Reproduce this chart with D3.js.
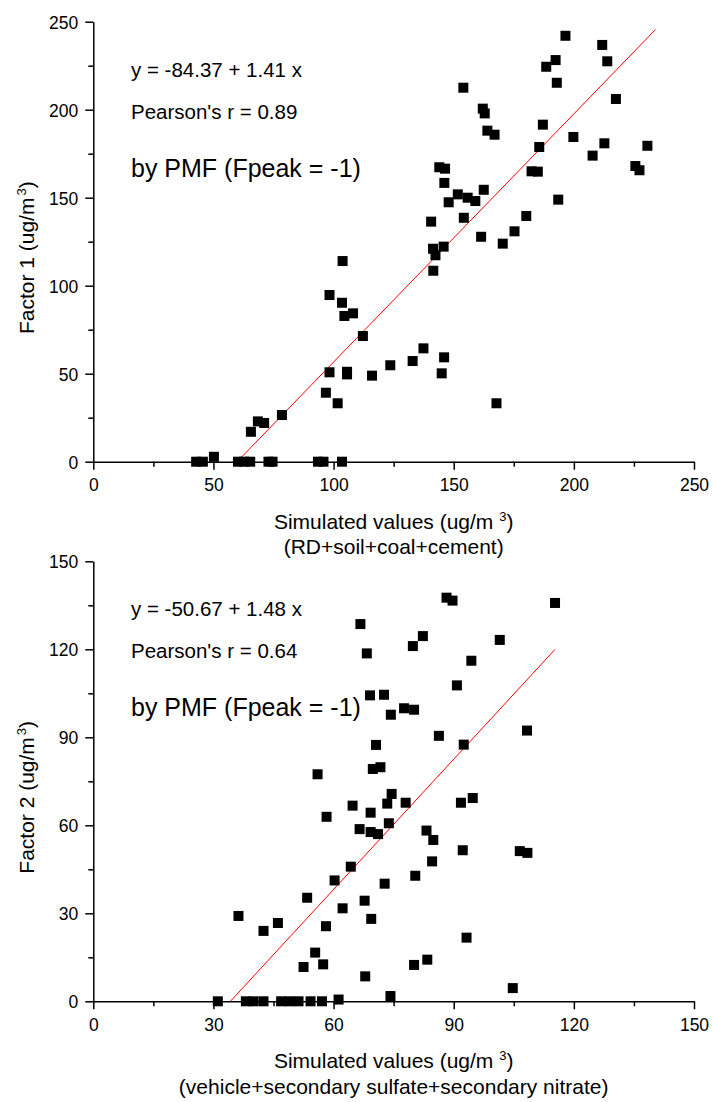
<!DOCTYPE html>
<html>
<head>
<meta charset="utf-8">
<script src="https://cdn.jsdelivr.net/npm/d3@7"></script>
<style>
  body { margin: 0; background: #fff; }
  svg { display: block; font-family: "Liberation Sans", Arial, sans-serif; }
  .axis path, .axis line { stroke: #000; stroke-width: 1.5; }
  .axis text { font-size: 17.5px; fill: #000; font-family: "Liberation Sans", Arial, sans-serif; }
</style>
</head>
<body>
<svg></svg>
<script>
// Factor 1 vs simulated (RD+soil+coal+cement)
var f1X = [196.5, 211.8, 213.9, 192.4, 188.5, 192.9, 154.0, 217.5, 162.1, 162.9, 187.1, 164.0,
    167.0, 199.8, 212.7, 230.6, 185.6, 207.8, 144.0, 146.4, 225.6, 227.3, 182.4, 185.0,
    146.1, 162.5, 151.7, 155.8, 159.0, 147.9, 193.5, 140.6, 154.2, 180.2, 175.3, 161.4,
    170.4, 141.4, 142.4, 145.8, 141.5, 103.75, 98.3, 103.5, 104.5, 108.1, 112.2, 98.3,
    105.6, 105.6, 96.8, 101.7, 65.6, 68.5, 71.1, 78.5, 50.2, 116.0, 123.6, 132.9,
    137.4, 146.0, 145.0, 167.8,
    42.8, 45.6, 60.2, 62.8, 65.3, 72.9, 74.6, 93.5, 95.8, 103.5];
var f1Y = [242.0, 236.8, 227.5, 228.2, 224.4, 215.3, 212.5, 206.1, 200.6, 197.9, 191.5, 188.1,
    185.8, 184.5, 180.9, 179.5, 178.8, 173.9, 167.3, 166.5, 168.0, 165.6, 165.0, 164.8,
    158.4, 154.5, 151.9, 150.0, 148.1, 147.4, 148.9, 136.4, 138.6, 139.6, 130.9, 127.8,
    123.9, 121.0, 117.3, 122.2, 108.5, 114.0, 94.7, 90.3, 82.8, 84.3, 71.4, 50.8,
    51.1, 49.6, 39.2, 33.2, 17.0, 22.9, 22.0, 26.5, 2.8, 48.9, 54.8, 57.2,
    64.4, 59.3, 50.2, 33.2,
    0, 0, 0, 0, 0, 0, 0, 0, 0, 0];

// Factor 2 vs simulated (vehicle+secondary sulfate+secondary nitrate)
var f2X = [88.2, 89.7, 115.3, 66.7, 82.3, 79.8, 101.5, 68.3, 94.4, 90.8, 69.1, 72.6,
    74.3, 77.6, 80.1, 86.3, 108.3, 92.5, 70.6, 69.8, 71.7, 56.0, 64.75, 74.5,
    73.4, 78.0, 91.8, 94.75, 69.25, 58.25, 66.5, 69.25, 71.1, 73.8, 83.2, 84.9,
    92.25, 106.5, 108.4, 84.6, 64.3, 80.4, 72.75, 60.25, 53.4, 62.25, 67.75, 69.4,
    36.25, 42.5, 46.1, 58.1, 93.2, 55.4, 52.5, 57.4, 80.1, 83.4, 67.9, 104.75,
    74.2, 61.25,
    31.1, 38.1, 40.0, 42.5, 46.9, 49.0, 51.25, 54.25, 57.1];
var f2Y = [137.6, 136.6, 135.8, 128.6, 124.5, 121.1, 123.2, 118.6, 116.1, 107.7, 104.3, 104.5,
    97.7, 99.9, 99.4, 90.5, 92.3, 87.5, 87.4, 79.2, 79.8, 77.4, 66.7, 70.7,
    67.4, 67.7, 67.7, 69.3, 64.3, 62.9, 58.7, 57.7, 57.0, 60.7, 58.2, 55.0,
    51.5, 51.2, 50.6, 47.7, 45.9, 42.8, 40.1, 41.2, 35.3, 31.7, 34.3, 28.1,
    29.1, 24.0, 26.7, 25.6, 21.7, 16.6, 11.7, 12.6, 12.4, 14.2, 8.5, 4.5,
    1.8, 0.6,
    0, 0, 0, 0, 0, 0, 0, 0, 0];

// linear fits: y = a + b x, drawn over fitRange
var f1Fit = [-84.37, 1.41];
var f2Fit = [-50.67, 1.48];
var f1FitRange = [59.84, 234];
var f2FitRange = [34.24, 115.3];

var f1Ticks = [0, 50, 100, 150, 200, 250];
var f2Ticks = [0, 30, 60, 90, 120, 150];

var width = 713, height = 1102;
var svg = d3.select('svg').attr('width', width).attr('height', height);

var panels = [
  { xs: f1X, ys: f1Y, fit: f1Fit, range: f1FitRange, ticks: f1Ticks, max: 250, top: 21.7,
    eq: 'y = -84.37 + 1.41 x', r: "Pearson's r = 0.89", yLabel: 'Factor 1 (ug/m',
    sub: '(RD+soil+coal+cement)' },
  { xs: f2X, ys: f2Y, fit: f2Fit, range: f2FitRange, ticks: f2Ticks, max: 150, top: 561.3,
    eq: 'y = -50.67 + 1.48 x', r: "Pearson's r = 0.64", yLabel: 'Factor 2 (ug/m',
    sub: '(vehicle+secondary sulfate+secondary nitrate)' }
];

var left = 93.3, right = 694, plotH = 440;

panels.forEach(function(p) {
  var x = d3.scaleLinear().domain([0, p.max]).range([left, right]);
  var y = d3.scaleLinear().domain([0, p.max]).range([p.top + plotH, p.top]);
  var step = p.ticks[1] - p.ticks[0];
  var minor = p.ticks.slice(0, -1).map(function(t) { return t + step / 2; });
  var g = svg.append('g');

  // minor ticks
  g.append('g').attr('class', 'axis')
      .attr('transform', 'translate(0,' + y(0) + ')')
      .call(d3.axisBottom(x).tickValues(minor).tickSize(5).tickSizeOuter(0).tickFormat(''))
      .select('.domain').remove();
  g.append('g').attr('class', 'axis')
      .attr('transform', 'translate(' + left + ',0)')
      .call(d3.axisLeft(y).tickValues(minor).tickSize(5).tickSizeOuter(0).tickFormat(''))
      .select('.domain').remove();

  // major axes
  var xa = g.append('g').attr('class', 'axis')
      .attr('transform', 'translate(0,' + y(0) + ')')
      .call(d3.axisBottom(x).tickValues(p.ticks).tickSize(8).tickSizeOuter(0).tickPadding(9));
  xa.selectAll('text').attr('dy', null).attr('y', 29.5);
  g.append('g').attr('class', 'axis')
      .attr('transform', 'translate(' + left + ',0)')
      .call(d3.axisLeft(y).tickValues(p.ticks).tickSize(8).tickSizeOuter(0).tickPadding(7))
      .selectAll('text').attr('dy', '0.36em');

  // fit line
  g.append('line')
      .attr('x1', x(p.range[0])).attr('y1', y(p.fit[0] + p.fit[1] * p.range[0]))
      .attr('x2', x(p.range[1])).attr('y2', y(p.fit[0] + p.fit[1] * p.range[1]))
      .attr('stroke', '#ff0000').attr('stroke-width', 1);

  // points
  g.append('g').selectAll('rect')
      .data(p.xs.map(function(v, i) { return [v, p.ys[i]]; }))
      .enter().append('rect')
      .attr('x', function(d) { return x(d[0]) - 5; })
      .attr('y', function(d) { return y(d[1]) - 5; })
      .attr('width', 10).attr('height', 10)
      .attr('fill', '#000');

  // annotations
  var tx = 131;
  g.append('text').attr('x', tx).attr('y', p.top + 55).attr('font-size', 20.5).text(p.eq);
  g.append('text').attr('x', tx).attr('y', p.top + 97).attr('font-size', 20.5).text(p.r);
  g.append('text').attr('x', tx).attr('y', p.top + 155).attr('font-size', 25).text('by PMF (Fpeak = -1)');

  // x title
  var cx = (left + right) / 2;
  var t1 = g.append('text').attr('x', cx).attr('y', y(0) + 67)
      .attr('text-anchor', 'middle').attr('font-size', 21);
  t1.append('tspan').text('Simulated values (ug/m ');
  t1.append('tspan').attr('dy', -8).attr('font-size', 13).text('3');
  t1.append('tspan').attr('dy', 8).text(')');
  g.append('text').attr('x', cx).attr('y', y(0) + 92.5)
      .attr('text-anchor', 'middle').attr('font-size', 21).text(p.sub);

  // y title
  var yc = p.top + plotH / 2 + 16;
  var t2 = g.append('text')
      .attr('transform', 'translate(34,' + yc + ') rotate(-90)')
      .attr('text-anchor', 'middle').attr('font-size', 21);
  t2.append('tspan').text(p.yLabel);
  t2.append('tspan').attr('dx', 2).attr('dy', -8).attr('font-size', 13).text('3');
  t2.append('tspan').attr('dy', 8).text(')');
});
</script>
</body>
</html>
